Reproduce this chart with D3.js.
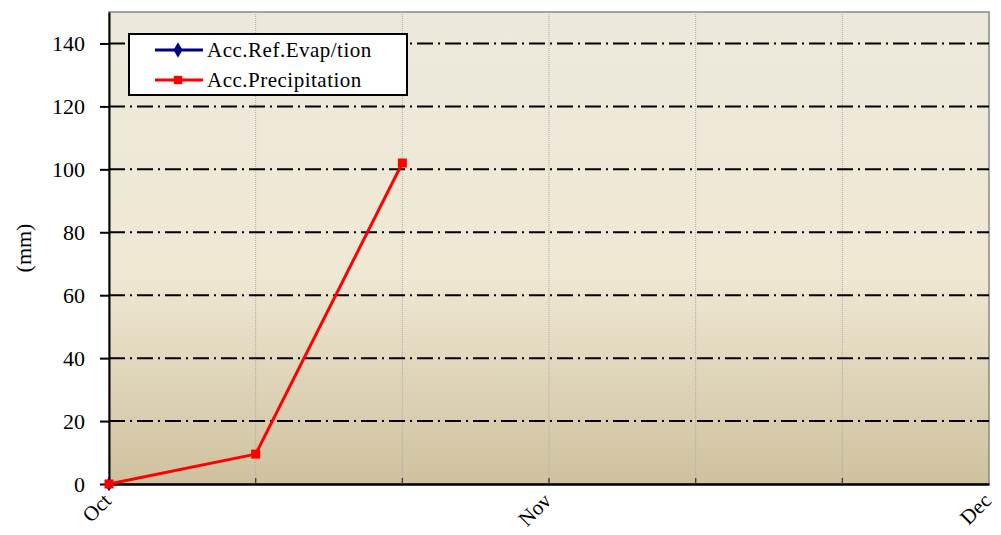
<!DOCTYPE html>
<html>
<head>
<meta charset="utf-8">
<script src="https://cdn.jsdelivr.net/npm/d3@7"></script>
<style>
  body { margin: 0; background: #fff; }
</style>
</head>
<body>
<svg width="1001" height="535"></svg>
<script>
// periods along the x axis (3 per month)
var periods = [0, 1, 2, 3, 4, 5, 6]
var periodLabels = ["Oct", "", "", "Nov", "", "", "Dec"]
var yTicks = [0, 20, 40, 60, 80, 100, 120, 140]

var evapX = [0]
var evapY = [0]
var precipX = [0, 1, 2]
var precipY = [0, 9.5, 102]

var font = "'Liberation Serif', 'Times New Roman', serif"
var margin = {left: 109, top: 12, right: 12, bottom: 51}
var width = 1001 - margin.left - margin.right
var height = 535 - margin.top - margin.bottom

var svg = d3.select("svg")
var defs = svg.append("defs")
var grad = defs.append("linearGradient").attr("id", "bg")
  .attr("x1", 0).attr("y1", 0).attr("x2", 0).attr("y2", 1)
grad.append("stop").attr("offset", "0%").attr("stop-color", "#ECE9DC")
grad.append("stop").attr("offset", "55%").attr("stop-color", "#EFE8D3")
grad.append("stop").attr("offset", "100%").attr("stop-color", "#CFC19E")

var g = svg.append("g").attr("transform", "translate(" + margin.left + "," + margin.top + ")")

var xScale = d3.scaleLinear().domain([0, 6]).range([0, width])
var yScale = d3.scaleLinear().domain([0, 150]).range([height, 0])

g.append("rect").attr("width", width).attr("height", height)
  .style("fill", "url(#bg)").style("stroke", "#888").style("stroke-width", 1.5)

// vertical dotted grid
g.selectAll("line.vgrid")
  .data(periods.slice(1, 6))
  .enter().append("line")
  .attr("class", "vgrid")
  .attr("x1", d => xScale(d)).attr("x2", d => xScale(d))
  .attr("y1", 0).attr("y2", height)
  .style("stroke", "#aaa").style("stroke-width", 1).style("stroke-dasharray", "1,1")

// horizontal dash-dot grid
g.selectAll("line.hgrid")
  .data(yTicks.slice(1))
  .enter().append("line")
  .attr("class", "hgrid")
  .attr("x1", 0).attr("x2", width)
  .attr("y1", d => yScale(d)).attr("y2", d => yScale(d))
  .style("stroke", "#000").style("stroke-width", 2).style("stroke-dasharray", "16,5,2,5")

// y axis
var yAxis = d3.axisLeft(yScale).tickValues(yTicks).tickSize(9).tickPadding(15).tickSizeOuter(0)
var ya = g.append("g").call(yAxis).attr("font-family", null)
ya.select(".domain").style("stroke", "#000").style("stroke-width", 2)
ya.selectAll(".tick line").style("stroke", "#000").style("stroke-width", 2)
ya.selectAll(".tick text").style("font-size", "22px").style("font-family", font).style("fill", "#000")

// x axis
var xAxis = d3.axisBottom(xScale).tickValues(periods).tickSize(0).tickFormat((d, i) => periodLabels[i]).tickSizeOuter(0)
var xa = g.append("g").attr("transform", "translate(0," + height + ")").call(xAxis).attr("font-family", null)
xa.select(".domain").style("stroke", "#000").style("stroke-width", 2.5)
xa.selectAll(".tick text")
  .style("font-size", "21px").style("font-family", font).style("fill", "#000")
  .attr("text-anchor", "end")
  .attr("dy", "0")
  .attr("transform", "translate(3,18) rotate(-45)")
  .attr("y", 0).attr("x", 0)
g.selectAll("line.xtick")
  .data(periods.slice(1, 6))
  .enter().append("line")
  .attr("class", "xtick")
  .attr("x1", d => xScale(d)).attr("x2", d => xScale(d))
  .attr("y1", height).attr("y2", height - 6)
  .style("stroke", "#444").style("stroke-width", 1.5)

// y title
svg.append("text")
  .attr("transform", "translate(31," + (margin.top + height / 2) + ") rotate(-90)")
  .attr("text-anchor", "middle")
  .style("font-size", "22px").style("font-family", font)
  .text("(mm)")

var line = d3.line().x(d => xScale(d[0])).y(d => yScale(d[1]))

var evap = evapX.map((d, i) => [d, evapY[i]])
var precip = precipX.map((d, i) => [d, precipY[i]])

g.append("path").datum(evap).attr("d", line)
  .style("fill", "none").style("stroke", "#000080").style("stroke-width", 3)
g.selectAll("path.dia").data(evap).enter().append("path")
  .attr("class", "dia")
  .attr("d", d3.symbol().type(d3.symbolDiamond).size(60))
  .attr("transform", d => "translate(" + xScale(d[0]) + "," + yScale(d[1]) + ")")
  .style("fill", "#000080")

g.append("path").datum(precip).attr("d", line)
  .style("fill", "none").style("stroke", "#FF0000").style("stroke-width", 3)
g.selectAll("rect.sq").data(precip).enter().append("rect")
  .attr("class", "sq")
  .attr("x", d => xScale(d[0]) - 4.5).attr("y", d => yScale(d[1]) - 4.5)
  .attr("width", 9).attr("height", 9)
  .style("fill", "#FF0000")

// legend
var legend = svg.append("g").attr("transform", "translate(129,34)")
legend.append("rect").attr("width", 278).attr("height", 61)
  .style("fill", "#fff").style("stroke", "#000").style("stroke-width", 2)
var legendItems = [
  {name: "Acc.Ref.Evap/tion", color: "#000080", shape: "diamond"},
  {name: "Acc.Precipitation", color: "#FF0000", shape: "square"}
]
var li = legend.selectAll("g.li").data(legendItems).enter().append("g")
  .attr("transform", (d, i) => "translate(0," + (16 + i * 30) + ")")
li.append("line").attr("x1", 26).attr("x2", 74).attr("y1", 0).attr("y2", 0)
  .style("stroke", d => d.color).style("stroke-width", 3)
li.append("path")
  .attr("d", d => d3.symbol().type(d.shape === "diamond" ? d3.symbolDiamond : d3.symbolSquare).size(70)())
  .attr("transform", "translate(49,0)")
  .style("fill", d => d.color)
li.append("text").attr("x", 78).attr("y", 7)
  .style("font-size", "21px").style("font-family", font).style("letter-spacing", "0.5px")
  .text(d => d.name)
</script>
</body>
</html>
